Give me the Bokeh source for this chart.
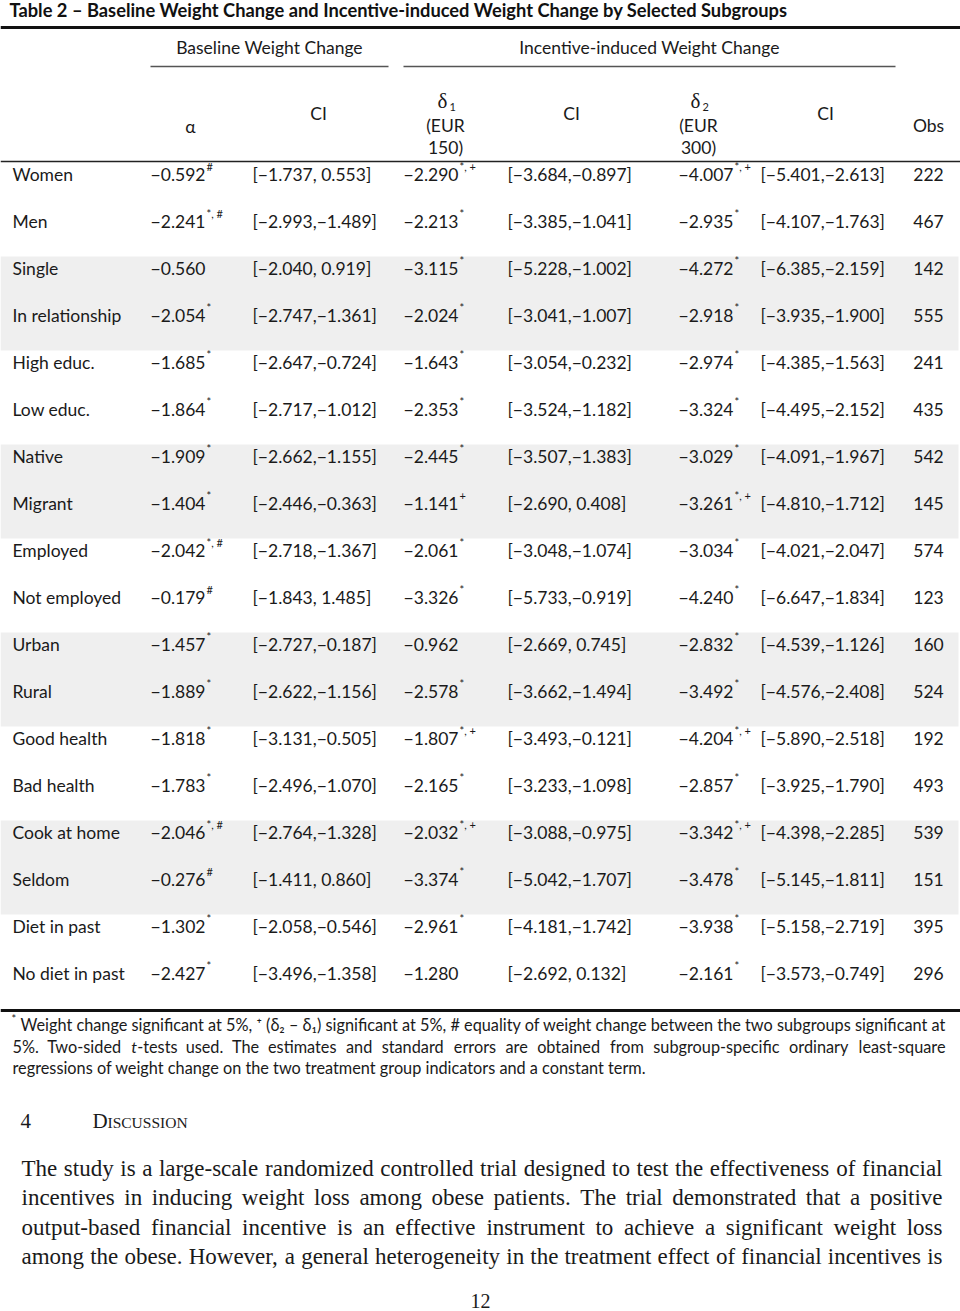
from bokeh.plotting import figure
from bokeh.models import Range1d, ColumnDataSource
from bokeh.core.properties import value
from bokeh.embed import file_html
from bokeh.resources import INLINE

labels = ["Women", "Men", "Single", "In relationship", "High educ.", "Low educ.",
          "Native", "Migrant", "Employed", "Not employed", "Urban", "Rural",
          "Good health", "Bad health", "Cook at home", "Seldom", "Diet in past",
          "No diet in past"]
alpha = [-0.592, -2.241, -0.560, -2.054, -1.685, -1.864, -1.909, -1.404, -2.042,
         -0.179, -1.457, -1.889, -1.818, -1.783, -2.046, -0.276, -1.302, -2.427]
alpha_sig = ["#", "*, #", "", "*", "*", "*", "*", "*", "*, #", "#", "*", "*", "*",
             "*", "*, #", "#", "*", "*"]
alpha_lo = [-1.737, -2.993, -2.040, -2.747, -2.647, -2.717, -2.662, -2.446, -2.718,
            -1.843, -2.727, -2.622, -3.131, -2.496, -2.764, -1.411, -2.058, -3.496]
alpha_hi = [0.553, -1.489, 0.919, -1.361, -0.724, -1.012, -1.155, -0.363, -1.367,
            1.485, -0.187, -1.156, -0.505, -1.070, -1.328, 0.860, -0.546, -1.358]
d1 = [-2.290, -2.213, -3.115, -2.024, -1.643, -2.353, -2.445, -1.141, -2.061,
      -3.326, -0.962, -2.578, -1.807, -2.165, -2.032, -3.374, -2.961, -1.280]
d1_sig = ["*, +", "*", "*", "*", "*", "*", "*", "+", "*", "*", "", "*", "*, +",
          "*", "*, +", "*", "*", ""]
d1_lo = [-3.684, -3.385, -5.228, -3.041, -3.054, -3.524, -3.507, -2.690, -3.048,
         -5.733, -2.669, -3.662, -3.493, -3.233, -3.088, -5.042, -4.181, -2.692]
d1_hi = [-0.897, -1.041, -1.002, -1.007, -0.232, -1.182, -1.383, 0.408, -1.074,
         -0.919, 0.745, -1.494, -0.121, -1.098, -0.975, -1.707, -1.742, 0.132]
d2 = [-4.007, -2.935, -4.272, -2.918, -2.974, -3.324, -3.029, -3.261, -3.034,
      -4.240, -2.832, -3.492, -4.204, -2.857, -3.342, -3.478, -3.938, -2.161]
d2_sig = ["*, +", "*", "*", "*", "*", "*", "*", "*, +", "*", "*", "*", "*", "*, +",
          "*", "*, +", "*", "*", "*"]
d2_lo = [-5.401, -4.107, -6.385, -3.935, -4.385, -4.495, -4.091, -4.810, -4.021,
         -6.647, -4.539, -4.576, -5.890, -3.925, -4.398, -5.145, -5.158, -3.573]
d2_hi = [-2.613, -1.763, -2.159, -1.900, -1.563, -2.152, -1.967, -1.712, -2.047,
         -1.834, -1.126, -2.408, -2.518, -1.790, -2.285, -1.811, -2.719, -0.749]
obs = [222, 467, 142, 555, 241, 435, 542, 145, 574, 123, 160, 524, 192, 493, 539,
       151, 395, 296]

title = "Table 2 \u2013 Baseline Weight Change and Incentive-induced Weight Change by Selected Subgroups"
group_headers = ["Baseline Weight Change", "Incentive-induced Weight Change"]
foot_line1 = "Weight change significant at 5%, \u207a (\u03b4\u2082 \u2013 \u03b4\u2081) significant at 5%, # equality of weight change between the two subgroups significant at"
foot_line2 = "5%. Two-sided t-tests used. The estimates and standard errors are obtained from subgroup-specific ordinary least-square"
foot_line3 = "regressions of weight change on the two treatment group indicators and a constant term."
para_lines = [
    "The study is a large-scale randomized controlled trial designed to test the effectiveness of financial",
    "incentives in inducing weight loss among obese patients. The trial demonstrated that a positive",
    "output-based financial incentive is an effective instrument to achieve a significant weight loss",
    "among the obese. However, a general heterogeneity in the treatment effect of financial incentives is",
]

MINUS = "\u2212"


def fmt(v):
    s = f"{abs(v):.3f}"
    return (MINUS + s) if v < 0 else s


def fmt_ci(lo, hi):
    return "[" + fmt(lo) + "," + (" " if hi >= 0 else "") + fmt(hi) + "]"


# --- font metrics for justification ---
TIMES = dict(zip("abcdefghijklmnopqrstuvwxyz",
                 [444, 500, 444, 500, 444, 333, 500, 500, 278, 278, 500, 278, 778,
                  500, 500, 500, 500, 333, 389, 278, 500, 500, 722, 500, 500, 444]))
TIMES.update(dict(zip("ABCDEFGHIJKLMNOPQRSTUVWXYZ",
                      [722, 667, 667, 722, 611, 556, 722, 722, 333, 389, 722, 611, 889,
                       722, 722, 556, 722, 667, 556, 611, 722, 722, 944, 722, 722, 611])))
TIMES.update({" ": 250, ".": 250, ",": 250, "-": 333})


def times_w(s, size):
    return sum(TIMES.get(c, 500) for c in s) / 1000.0 * size


LATO = dict(zip("abcdefghijklmnopqrstuvwxyz",
                [500, 560, 460, 560, 520, 320, 500, 560, 240, 240, 500, 240, 840,
                 560, 560, 560, 560, 360, 420, 350, 560, 510, 780, 490, 510, 450]))
LATO.update({"T": 560, " ": 200, ".": 200, ",": 200, "-": 330, "%": 780})


def lato_raw(s):
    return sum(LATO.get(c, 580) for c in s) / 1000.0


p = figure(width=960, height=1311, output_backend="svg", toolbar_location=None,
           x_range=Range1d(0, 960), y_range=Range1d(1311, 0),
           min_border=0, background_fill_color="white", border_fill_color="white")
p.axis.visible = False
p.grid.visible = False
p.outline_line_color = None

FONT = value("Lato")
SERIF = value("Liberation Serif")
TXT = "#1a1a1a"
FS = "17.5px"

# row geometry
y0, pitch = 174, 47
ys = [y0 + pitch * i for i in range(len(labels))]

# shaded bands (pairs 2,6,10,14)
band_idx = [i for i in range(len(labels)) if i % 4 == 2]
p.quad(left=0, right=958, top=[ys[i] - 12 for i in band_idx],
       bottom=[ys[i] - 12 + 2 * pitch for i in band_idx],
       fill_color="#efefef", line_color=None)

# rules
p.segment(x0=0, x1=960, y0=27, y1=27, line_color="#111111", line_width=3)
p.segment(x0=0, x1=960, y0=161, y1=161, line_color="#222222", line_width=1.3)
p.segment(x0=0, x1=960, y0=1010, y1=1010, line_color="#111111", line_width=3)
p.segment(x0=[150, 403], x1=[388, 895], y0=66, y1=66, line_color="#555555", line_width=1.3)

# title
p.text(x=[9], y=[9], text=[title], text_font=FONT, text_font_style="bold",
       text_font_size="18.3px", text_baseline="middle", text_color="#111111")

# group headers
p.text(x=[269, 649], y=[47, 47], text=group_headers, text_font=FONT,
       text_font_size=FS, text_align="center", text_baseline="middle", text_color=TXT)

# column headers
hdr_x = [190, 318, 571, 825, 928]
hdr_y = [126, 113, 113, 113, 125]
hdr_t = ["\u03b1", "CI", "CI", "CI", "Obs"]
p.text(x=hdr_x, y=hdr_y, text=hdr_t, text_font=FONT, text_font_size=FS,
       text_align="center", text_baseline="middle", text_color=TXT)
p.text(x=[442, 695], y=[100, 100], text=["\u03b4", "\u03b4"], text_font=SERIF,
       text_font_size="21px", text_align="center", text_baseline="middle", text_color=TXT)
p.text(x=[449, 702], y=[106, 106], text=["1", "2"], text_font=FONT,
       text_font_size="11px", text_align="left", text_baseline="middle", text_color=TXT)
p.text(x=[445, 445, 698, 698], y=[125, 147, 125, 147],
       text=["(EUR", "150)", "(EUR", "300)"], text_font=FONT, text_font_size=FS,
       text_align="center", text_baseline="middle", text_color=TXT)

# body
src = ColumnDataSource(dict(
    y=ys, ys=[y - 8 for y in ys], label=labels,
    a=[fmt(v) for v in alpha], asig=alpha_sig,
    aci=[fmt_ci(l, h) for l, h in zip(alpha_lo, alpha_hi)],
    b1=[fmt(v) for v in d1], b1sig=d1_sig,
    ci1=[fmt_ci(l, h) for l, h in zip(d1_lo, d1_hi)],
    b2=[fmt(v) for v in d2], b2sig=d2_sig,
    ci2=[fmt_ci(l, h) for l, h in zip(d2_lo, d2_hi)],
    n=[str(v) for v in obs],
))

common = dict(source=src, text_font=FONT, text_font_size=FS, text_baseline="middle",
              text_color=TXT)
p.text(x=12, y="y", text="label", text_align="left", **common)
p.text(x=205, y="y", text="a", text_align="right", **common)
p.text(x=252, y="y", text="aci", text_align="left", **common)
p.text(x=458, y="y", text="b1", text_align="right", **common)
p.text(x=507, y="y", text="ci1", text_align="left", **common)
p.text(x=733, y="y", text="b2", text_align="right", **common)
p.text(x=760, y="y", text="ci2", text_align="left", **common)
p.text(x=928, y="y", text="n", text_align="center", **common)

sup = dict(source=src, text_font=FONT, text_font_size="11px", text_baseline="middle",
           text_color=TXT, text_align="left")
p.text(x=206, y="ys", text="asig", **sup)
p.text(x=459, y="ys", text="b1sig", **sup)
p.text(x=734, y="ys", text="b2sig", **sup)

# footnote
FN = 16.3
p.text(x=[11], y=[1018], text=["*"], text_font=FONT, text_font_size="11px",
       text_baseline="middle", text_color=TXT)
p.text(x=[20, 12], y=[1024, 1067], text=[foot_line1, foot_line3], text_font=FONT,
       text_font_size=f"{FN}px", text_baseline="middle", text_color=TXT)

# justified footnote line 2 (Lato widths calibrated on its natural rendered width)
calib = 859.0 / (lato_raw(foot_line2) * FN)
fw = foot_line2.split(" ")
widths = [lato_raw(w) * FN * calib for w in fw]
gap = (946 - 12 - sum(widths)) / (len(fw) - 1)
fx, xcur = [], 12.0
for w in widths:
    fx.append(xcur)
    xcur += w + gap
norm_x, norm_t, ital_x, ital_t = [], [], [], []
for x, w in zip(fx, fw):
    if w.startswith("t-"):
        ital_x.append(x)
        ital_t.append("t")
        norm_x.append(x + lato_raw("t") * FN * calib)
        norm_t.append(w[1:])
    else:
        norm_x.append(x)
        norm_t.append(w)
p.text(x=norm_x, y=[1046] * len(norm_x), text=norm_t, text_font=FONT,
       text_font_size=f"{FN}px", text_baseline="middle", text_color=TXT)
p.text(x=ital_x, y=[1046] * len(ital_x), text=ital_t, text_font=FONT,
       text_font_style="italic", text_font_size=f"{FN}px", text_baseline="middle",
       text_color=TXT)

# section heading
p.text(x=[20], y=[1120], text=["4"], text_font=SERIF, text_font_size="21px",
       text_baseline="middle", text_color=TXT)
p.text(x=[92], y=[1120], text=["D"], text_font=SERIF, text_font_size="21px",
       text_baseline="middle", text_color=TXT)
p.text(x=[107], y=[1122], text=["ISCUSSION"], text_font=SERIF, text_font_size="15.5px",
       text_baseline="middle", text_color=TXT)

# justified paragraph (Liberation Serif has Times metrics)
PS = 23.0
para_y = [1168, 1197, 1227, 1256]
px, py, pt = [], [], []
for line, yy in zip(para_lines, para_y):
    words = line.split(" ")
    ws = [times_w(w, PS) for w in words]
    g = (942 - 21 - sum(ws)) / (len(words) - 1)
    xc = 21.0
    for w, wd in zip(words, ws):
        px.append(xc)
        py.append(yy)
        pt.append(w)
        xc += wd + g
p.text(x=px, y=py, text=pt, text_font=SERIF, text_font_size=f"{PS}px",
       text_baseline="middle", text_color=TXT)

# page number
p.text(x=[480], y=[1300], text=["12"], text_font=SERIF, text_font_size="20px",
       text_align="center", text_baseline="middle", text_color=TXT)

open("out.html", "w").write(file_html(p, INLINE))
